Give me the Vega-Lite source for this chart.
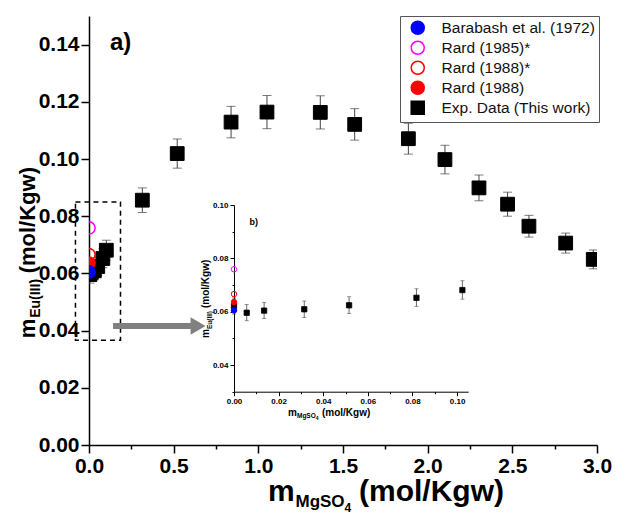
{
  "$schema": "https://vega.github.io/schema/vega-lite/v6.json",
  "width": 508,
  "height": 429,
  "autosize": "none",
  "padding": {"left": 89, "top": 16, "right": 36, "bottom": 72},
  "config": {
    "view": {"stroke": null},
    "font": "Liberation Sans",
    "axis": {"grid": false, "domainColor": "#000", "tickColor": "#000", "labelColor": "#000", "labelFont": "Liberation Sans", "labelFontWeight": "bold", "labelFlush": false, "labelOverlap": false},
    "text": {"font": "Liberation Sans", "fontWeight": "bold", "color": "#000"}
  },
  "datasets": {
    "exp": [
      {"x": 0, "y": 0.0621, "lo": 0.0591, "hi": 0.0651, "series": "Exp. Data (This work)"},
      {"x": 0.0057, "y": 0.0596, "lo": 0.0566, "hi": 0.0627, "series": "Exp. Data (This work)"},
      {"x": 0.0135, "y": 0.0604, "lo": 0.0574, "hi": 0.0635, "series": "Exp. Data (This work)"},
      {"x": 0.0315, "y": 0.0609, "lo": 0.0578, "hi": 0.064, "series": "Exp. Data (This work)"},
      {"x": 0.0516, "y": 0.0624, "lo": 0.0593, "hi": 0.0656, "series": "Exp. Data (This work)"},
      {"x": 0.0818, "y": 0.0652, "lo": 0.062, "hi": 0.0686, "series": "Exp. Data (This work)"},
      {"x": 0.1024, "y": 0.0681, "lo": 0.0647, "hi": 0.0716, "series": "Exp. Data (This work)"},
      {"x": 0.315, "y": 0.0856, "lo": 0.0813, "hi": 0.0899, "series": "Exp. Data (This work)"},
      {"x": 0.521, "y": 0.1019, "lo": 0.0968, "hi": 0.107, "series": "Exp. Data (This work)"},
      {"x": 0.839, "y": 0.1129, "lo": 0.1074, "hi": 0.1184, "series": "Exp. Data (This work)"},
      {"x": 1.051, "y": 0.1164, "lo": 0.1106, "hi": 0.1222, "series": "Exp. Data (This work)"},
      {"x": 1.366, "y": 0.1163, "lo": 0.1105, "hi": 0.1221, "series": "Exp. Data (This work)"},
      {"x": 1.569, "y": 0.1121, "lo": 0.1066, "hi": 0.1176, "series": "Exp. Data (This work)"},
      {"x": 1.886, "y": 0.1071, "lo": 0.1017, "hi": 0.1125, "series": "Exp. Data (This work)"},
      {"x": 2.102, "y": 0.0998, "lo": 0.0948, "hi": 0.1048, "series": "Exp. Data (This work)"},
      {"x": 2.303, "y": 0.0899, "lo": 0.0854, "hi": 0.0944, "series": "Exp. Data (This work)"},
      {"x": 2.472, "y": 0.0842, "lo": 0.08, "hi": 0.0884, "series": "Exp. Data (This work)"},
      {"x": 2.598, "y": 0.0765, "lo": 0.0727, "hi": 0.0803, "series": "Exp. Data (This work)"},
      {"x": 2.815, "y": 0.0706, "lo": 0.0671, "hi": 0.0741, "series": "Exp. Data (This work)"},
      {"x": 2.978, "y": 0.0649, "lo": 0.0616, "hi": 0.0682, "series": "Exp. Data (This work)"}
    ],
    "lit": [
      {"x": 0, "y": 0.0666, "series": "Rard (1988)*"},
      {"x": 0, "y": 0.0759, "series": "Rard (1985)*"},
      {"x": 0, "y": 0.0636, "series": "Rard (1988)"},
      {"x": 0, "y": 0.0605, "series": "Barabash et al. (1972)"}
    ],
    "box": [{"x1": -0.08, "x2": 0.186, "y1": 0.0366, "y2": 0.085}],
    "arrow": [{"x1": 0.142, "x2": 0.608, "xh": 0.644, "y": 0.0416}]
  },
  "layer": [
    {
      "layer": [
        {
          "data": {"name": "exp"},
          "mark": {"type": "rule", "color": "#444", "strokeWidth": 1, "clip": true},
          "encoding": {
            "x": {"field": "x", "type": "quantitative", "scale": {"domain": [0, 3], "nice": false, "zero": false},
              "axis": {"orient": "bottom", "title": null, "values": [0, 0.25, 0.5, 0.75, 1, 1.25, 1.5, 1.75, 2, 2.25, 2.5, 2.75, 3],
                "labelExpr": "round(datum.value*4)%2==0 ? format(datum.value,'.1f') : ''",
                "tickSize": {"condition": {"test": "round(datum.value*4)%2==0", "value": 8}, "value": 4},
                "domainWidth": 1.5, "tickWidth": 1.5, "labelFontSize": 21, "labelPadding": 2}},
            "y": {"field": "lo", "type": "quantitative", "scale": {"domain": [0, 0.15], "nice": false, "zero": false},
              "axis": {"orient": "left", "title": null, "values": [0, 0.01, 0.02, 0.03, 0.04, 0.05, 0.06, 0.07, 0.08, 0.09, 0.1, 0.11, 0.12, 0.13, 0.14, 0.15],
                "labelExpr": "round(datum.value*100)%2==0 ? format(datum.value,'.2f') : ''",
                "tickSize": {"condition": {"test": "round(datum.value*100)%2==0", "value": 8}, "value": 4},
                "domainWidth": 1.5, "tickWidth": 1.5, "labelFontSize": 21, "labelPadding": 2}},
            "y2": {"field": "hi"}
          }
        },
        {
          "data": {"name": "exp"},
          "mark": {"type": "tick", "orient": "horizontal", "size": 9, "thickness": 1, "color": "#444", "clip": true},
          "encoding": {"x": {"field": "x", "type": "quantitative"}, "y": {"field": "lo", "type": "quantitative"}}
        },
        {
          "data": {"name": "exp"},
          "mark": {"type": "tick", "orient": "horizontal", "size": 9, "thickness": 1, "color": "#444", "clip": true},
          "encoding": {"x": {"field": "x", "type": "quantitative"}, "y": {"field": "hi", "type": "quantitative"}}
        },
        {
          "data": {"name": "exp"},
          "mark": {"type": "point", "size": 190, "strokeWidth": 1, "opacity": 1, "clip": true},
          "encoding": {
            "x": {"field": "x", "type": "quantitative"},
            "y": {"field": "y", "type": "quantitative"},
            "fill": {"field": "series", "type": "nominal", "scale": {"domain": ["Barabash et al. (1972)", "Rard (1985)*", "Rard (1988)*", "Rard (1988)", "Exp. Data (This work)"], "range": ["#0000ff", "transparent", "transparent", "#ff0000", "#000000"]},
              "legend": {"title": null, "orient": "none", "legendX": 311, "legendY": 0, "strokeColor": "#555", "padding": 4, "symbolOffset": 6, "labelOffset": 16, "labelFontSize": 15.5, "labelFont": "Liberation Sans", "labelColor": "#111", "symbolSize": 170, "symbolStrokeWidth": 1.5, "rowPadding": 0}},
            "stroke": {"field": "series", "type": "nominal", "scale": {"domain": ["Barabash et al. (1972)", "Rard (1985)*", "Rard (1988)*", "Rard (1988)", "Exp. Data (This work)"], "range": ["#0000ff", "#ff00ff", "#ff0000", "#ff0000", "#000000"]},
              "legend": {"title": null, "orient": "none", "legendX": 311, "legendY": 0, "strokeColor": "#555", "padding": 4, "symbolOffset": 6, "labelOffset": 16, "labelFontSize": 15.5, "labelFont": "Liberation Sans", "labelColor": "#111", "symbolSize": 170, "symbolStrokeWidth": 1.5, "rowPadding": 0}},
            "shape": {"field": "series", "type": "nominal", "scale": {"domain": ["Barabash et al. (1972)", "Rard (1985)*", "Rard (1988)*", "Rard (1988)", "Exp. Data (This work)"], "range": ["circle", "circle", "circle", "circle", "square"]},
              "legend": {"title": null, "orient": "none", "legendX": 311, "legendY": 0, "strokeColor": "#555", "padding": 4, "symbolOffset": 6, "labelOffset": 16, "labelFontSize": 15.5, "labelFont": "Liberation Sans", "labelColor": "#111", "symbolSize": 170, "symbolStrokeWidth": 1.5, "rowPadding": 0}}
          }
        },
        {
          "data": {"name": "lit"},
          "mark": {"type": "point", "size": 150, "strokeWidth": 1.5, "opacity": 1, "clip": true},
          "encoding": {
            "x": {"field": "x", "type": "quantitative"},
            "y": {"field": "y", "type": "quantitative"},
            "fill": {"field": "series", "type": "nominal"},
            "stroke": {"field": "series", "type": "nominal"},
            "shape": {"field": "series", "type": "nominal"}
          }
        },
        {
          "data": {"name": "box"},
          "mark": {"type": "rect", "filled": false, "stroke": "#000", "strokeWidth": 1.5, "strokeDash": [5, 4]},
          "encoding": {"x": {"field": "x1", "type": "quantitative"}, "x2": {"field": "x2"}, "y": {"field": "y1", "type": "quantitative"}, "y2": {"field": "y2"}}
        },
        {
          "data": {"name": "arrow"},
          "mark": {"type": "rule", "color": "#808080", "strokeWidth": 6},
          "encoding": {"x": {"field": "x1", "type": "quantitative"}, "x2": {"field": "x2"}, "y": {"field": "y", "type": "quantitative"}}
        },
        {
          "data": {"name": "arrow"},
          "mark": {"type": "point", "shape": "triangle-right", "filled": true, "size": 300, "color": "#808080", "opacity": 1},
          "encoding": {"x": {"field": "xh", "type": "quantitative"}, "y": {"field": "y", "type": "quantitative"}}
        },
        {
          "data": {"values": [{}]},
          "mark": {"type": "text", "text": "a)", "fontSize": 24, "align": "left", "baseline": "middle"},
          "encoding": {"x": {"datum": 0.124, "type": "quantitative"}, "y": {"datum": 0.1405, "type": "quantitative"}}
        },
        {
          "data": {"values": [{}]},
          "mark": {"type": "text", "text": "m", "fontSize": 30, "align": "left", "baseline": "alphabetic"},
          "encoding": {"x": {"datum": 1.057, "type": "quantitative"}, "y": {"datum": -0.0197, "type": "quantitative"}}
        },
        {
          "data": {"values": [{}]},
          "mark": {"type": "text", "text": "MgSO", "fontSize": 17, "align": "left", "baseline": "alphabetic", "dx": 27.5, "dy": 6},
          "encoding": {"x": {"datum": 1.057, "type": "quantitative"}, "y": {"datum": -0.0197, "type": "quantitative"}}
        },
        {
          "data": {"values": [{}]},
          "mark": {"type": "text", "text": "4", "fontSize": 12, "align": "left", "baseline": "alphabetic", "dx": 76.6, "dy": 11},
          "encoding": {"x": {"datum": 1.057, "type": "quantitative"}, "y": {"datum": -0.0197, "type": "quantitative"}}
        },
        {
          "data": {"values": [{}]},
          "mark": {"type": "text", "text": "(mol/Kgw)", "fontSize": 30, "align": "left", "baseline": "alphabetic", "dx": 91},
          "encoding": {"x": {"datum": 1.057, "type": "quantitative"}, "y": {"datum": -0.0197, "type": "quantitative"}}
        },
        {
          "data": {"values": [{}]},
          "mark": {"type": "text", "text": "m", "fontSize": 22, "align": "left", "baseline": "alphabetic", "angle": 270},
          "encoding": {"x": {"datum": -0.319, "type": "quantitative"}, "y": {"datum": 0.0373, "type": "quantitative"}}
        },
        {
          "data": {"values": [{}]},
          "mark": {"type": "text", "text": "Eu(III)", "fontSize": 14, "align": "left", "baseline": "alphabetic", "angle": 270, "dx": 20.5, "dy": 5},
          "encoding": {"x": {"datum": -0.319, "type": "quantitative"}, "y": {"datum": 0.0373, "type": "quantitative"}}
        },
        {
          "data": {"values": [{}]},
          "mark": {"type": "text", "text": "(mol/Kgw)", "fontSize": 22, "align": "left", "baseline": "alphabetic", "angle": 270, "dx": 65},
          "encoding": {"x": {"datum": -0.319, "type": "quantitative"}, "y": {"datum": 0.0373, "type": "quantitative"}}
        }
      ]
    },
    {
      "layer": [
        {
          "data": {"name": "exp"},
          "transform": [{"filter": "datum.x <= 0.11"}],
          "mark": {"type": "rule", "color": "#444", "strokeWidth": 0.8},
          "encoding": {
            "x": {"field": "x", "type": "quantitative", "scale": {"domain": [0, 0.105], "range": [145, 379.2], "nice": false, "zero": false},
              "axis": {"orient": "bottom", "offset": -53.3, "title": null, "values": [0, 0.01, 0.02, 0.03, 0.04, 0.05, 0.06, 0.07, 0.08, 0.09, 0.1],
                "labelExpr": "round(datum.value*100)%2==0 ? format(datum.value,'.2f') : ''",
                "tickSize": {"condition": {"test": "round(datum.value*100)%2==0", "value": 4}, "value": 2},
                "domainWidth": 1, "tickWidth": 1, "labelFontSize": 8, "labelPadding": 2}},
            "y": {"field": "lo", "type": "quantitative", "scale": {"domain": [0.03, 0.1], "range": [375.7, 189], "nice": false, "zero": false},
              "axis": {"orient": "left", "offset": -145, "title": null, "values": [0.03, 0.04, 0.05, 0.06, 0.07, 0.08, 0.09, 0.1],
                "labelExpr": "round(datum.value*100)%2==0 ? format(datum.value,'.2f') : ''",
                "tickSize": {"condition": {"test": "round(datum.value*100)%2==0", "value": 4}, "value": 2},
                "domainWidth": 1, "tickWidth": 1, "labelFontSize": 8, "labelPadding": 2}},
            "y2": {"field": "hi"}
          }
        },
        {
          "data": {"name": "exp"},
          "transform": [{"filter": "datum.x <= 0.11"}],
          "mark": {"type": "tick", "orient": "horizontal", "size": 4, "thickness": 0.8, "color": "#444"},
          "encoding": {"x": {"field": "x", "type": "quantitative"}, "y": {"field": "lo", "type": "quantitative"}}
        },
        {
          "data": {"name": "exp"},
          "transform": [{"filter": "datum.x <= 0.11"}],
          "mark": {"type": "tick", "orient": "horizontal", "size": 4, "thickness": 0.8, "color": "#444"},
          "encoding": {"x": {"field": "x", "type": "quantitative"}, "y": {"field": "hi", "type": "quantitative"}}
        },
        {
          "data": {"name": "exp"},
          "transform": [{"filter": "datum.x <= 0.11"}],
          "mark": {"type": "point", "size": 28, "strokeWidth": 0.8, "opacity": 1},
          "encoding": {
            "x": {"field": "x", "type": "quantitative"},
            "y": {"field": "y", "type": "quantitative"},
            "fill": {"field": "series", "type": "nominal"},
            "stroke": {"field": "series", "type": "nominal"},
            "shape": {"field": "series", "type": "nominal"}
          }
        },
        {
          "data": {"name": "lit"},
          "mark": {"type": "point", "size": 30, "strokeWidth": 1, "opacity": 1},
          "encoding": {
            "x": {"field": "x", "type": "quantitative"},
            "y": {"field": "y", "type": "quantitative"},
            "fill": {"field": "series", "type": "nominal"},
            "stroke": {"field": "series", "type": "nominal"},
            "shape": {"field": "series", "type": "nominal"}
          }
        },
        {
          "data": {"values": [{}]},
          "mark": {"type": "text", "text": "b)", "fontSize": 9, "align": "left", "baseline": "middle"},
          "encoding": {"x": {"datum": 0.0069, "type": "quantitative"}, "y": {"datum": 0.0938, "type": "quantitative"}}
        },
        {
          "data": {"values": [{}]},
          "mark": {"type": "text", "text": "m", "fontSize": 10, "align": "left", "baseline": "alphabetic"},
          "encoding": {"x": {"datum": 0.0242, "type": "quantitative"}, "y": {"datum": 0.0209, "type": "quantitative"}}
        },
        {
          "data": {"values": [{}]},
          "mark": {"type": "text", "text": "MgSO", "fontSize": 6.5, "align": "left", "baseline": "alphabetic", "dx": 9, "dy": 2.5},
          "encoding": {"x": {"datum": 0.0242, "type": "quantitative"}, "y": {"datum": 0.0209, "type": "quantitative"}}
        },
        {
          "data": {"values": [{}]},
          "mark": {"type": "text", "text": "4", "fontSize": 5, "align": "left", "baseline": "alphabetic", "dx": 27.8, "dy": 4},
          "encoding": {"x": {"datum": 0.0242, "type": "quantitative"}, "y": {"datum": 0.0209, "type": "quantitative"}}
        },
        {
          "data": {"values": [{}]},
          "mark": {"type": "text", "text": "(mol/Kgw)", "fontSize": 10, "align": "left", "baseline": "alphabetic", "dx": 34},
          "encoding": {"x": {"datum": 0.0242, "type": "quantitative"}, "y": {"datum": 0.0209, "type": "quantitative"}}
        },
        {
          "data": {"values": [{}]},
          "mark": {"type": "text", "text": "m", "fontSize": 10, "align": "left", "baseline": "alphabetic", "angle": 270},
          "encoding": {"x": {"datum": -0.0112, "type": "quantitative"}, "y": {"datum": 0.0501, "type": "quantitative"}}
        },
        {
          "data": {"values": [{}]},
          "mark": {"type": "text", "text": "Eu(III)", "fontSize": 6.5, "align": "left", "baseline": "alphabetic", "angle": 270, "dx": 9, "dy": 2.5},
          "encoding": {"x": {"datum": -0.0112, "type": "quantitative"}, "y": {"datum": 0.0501, "type": "quantitative"}}
        },
        {
          "data": {"values": [{}]},
          "mark": {"type": "text", "text": "(mol/Kgw)", "fontSize": 10, "align": "left", "baseline": "alphabetic", "angle": 270, "dx": 30},
          "encoding": {"x": {"datum": -0.0112, "type": "quantitative"}, "y": {"datum": 0.0501, "type": "quantitative"}}
        }
      ]
    }
  ],
  "resolve": {"scale": {"x": "independent", "y": "independent"}}
}
